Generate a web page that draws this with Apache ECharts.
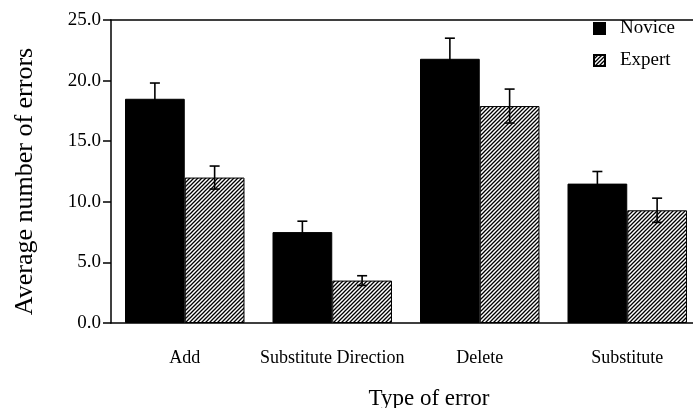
<!DOCTYPE html>
<html>
<head>
<meta charset="utf-8">
<script src="https://cdn.jsdelivr.net/npm/echarts@6/dist/echarts.min.js"></script>
<style>
  html, body { margin: 0; padding: 0; background: #fff; }
  #chart { width: 693px; height: 408px; }
</style>
</head>
<body>
<div id="chart"></div>
<script>
// data
const categories = ['Add', 'Substitute Direction', 'Delete', 'Substitute']
const novice = [18.5, 7.5, 21.8, 11.5]
const noviceErr = [1.3, 0.9, 1.7, 1.0]
const expert = [12.0, 3.5, 17.9, 9.3]
const expertErr = [0.95, 0.4, 1.4, 1.0]
const yTicks = [0, 5, 10, 15, 20, 25]

const font = "'Liberation Serif', 'Times New Roman', serif"
const catGap = 0.19

// diagonal hatch for the expert bars
const makeHatch = () => {
  const c = document.createElement('canvas')
  c.width = 4
  c.height = 4
  const ctx = c.getContext('2d')
  ctx.fillStyle = '#fff'
  ctx.fillRect(0, 0, 4, 4)
  ctx.strokeStyle = '#000'
  ctx.lineWidth = 1.3
  ctx.beginPath()
  ctx.moveTo(-1, 5); ctx.lineTo(5, -1)
  ctx.moveTo(-1, 1); ctx.lineTo(1, -1)
  ctx.moveTo(3, 5); ctx.lineTo(5, 3)
  ctx.stroke()
  return c
}

const errData = (vals, errs) => vals.map((v, i) => [i, v - errs[i], v + errs[i]])

const errSeries = (vals, errs, side) => ({
  type: 'custom',
  z: 5,
  silent: true,
  data: errData(vals, errs),
  encode: { x: 0, y: [1, 2] },
  renderItem: (params, api) => {
    const idx = api.value(0)
    const band = api.size([1, 0])[0]
    const x = api.coord([idx, 0])[0] + side * band * (1 - catGap) / 4
    const lo = api.coord([idx, api.value(1)])[1]
    const hi = api.coord([idx, api.value(2)])[1]
    const cap = 5
    const style = { stroke: '#000', lineWidth: 1.6 }
    return {
      type: 'group',
      children: [
        { type: 'line', shape: { x1: x, y1: lo, x2: x, y2: hi }, style },
        { type: 'line', shape: { x1: x - cap, y1: hi, x2: x + cap, y2: hi }, style },
        { type: 'line', shape: { x1: x - cap, y1: lo, x2: x + cap, y2: lo }, style },
      ],
    }
  },
})

const chart = echarts.init(document.getElementById('chart'))
chart.setOption({
  animation: false,
  textStyle: { fontFamily: font, color: '#000' },
  grid: { left: 111, right: -8, top: 20, bottom: 85, outerBoundsMode: 'none' },
  legend: {
    data: ['Novice', 'Expert'],
    orient: 'vertical',
    left: 593,
    top: 19,
    padding: 0,
    icon: 'rect',
    itemWidth: 11,
    itemHeight: 11,
    itemGap: 13,
    textStyle: { fontFamily: font, fontSize: 19, color: '#000', padding: [0, 0, 0, 10] },
  },
  xAxis: [
    {
      type: 'category',
      data: categories,
      axisLine: { lineStyle: { color: '#000', width: 1.5 } },
      axisTick: { alignWithLabel: true, length: 6, lineStyle: { color: '#000', width: 1.5 } },
      axisLabel: { interval: 0, color: '#000', fontFamily: font, fontSize: 18, margin: 26 },
      name: 'Type of error',
      nameLocation: 'middle',
      nameGap: 64,
      nameTextStyle: { fontFamily: font, fontSize: 23, color: '#000', padding: [0, 0, 0, 46] },
    },
    {
      type: 'category',
      data: categories,
      position: 'top',
      axisLine: { lineStyle: { color: '#000', width: 1.5 } },
      axisTick: { show: false },
      axisLabel: { show: false },
    },
  ],
  yAxis: {
    type: 'value',
    min: yTicks[0],
    max: yTicks[yTicks.length - 1],
    interval: 5,
    splitLine: { show: false },
    axisLine: { show: true, lineStyle: { color: '#000', width: 1.5 } },
    axisTick: { show: true, length: 8, lineStyle: { color: '#000', width: 1.5 } },
    axisLabel: { color: '#000', fontFamily: font, fontSize: 19, margin: 10, formatter: (v) => v.toFixed(1) },
    name: 'Average number of errors',
    nameLocation: 'middle',
    nameGap: 73,
    nameTextStyle: { fontFamily: font, fontSize: 26, color: '#000', padding: [0, 20, 0, 0] },
  },
  series: [
    {
      name: 'Novice',
      type: 'bar',
      data: novice,
      barGap: '0%',
      barCategoryGap: catGap * 100 + '%',
      itemStyle: { color: '#000', borderColor: '#000', borderWidth: 1 },
    },
    {
      name: 'Expert',
      type: 'bar',
      data: expert,
      itemStyle: { color: { image: makeHatch(), repeat: 'repeat' }, borderColor: '#000', borderWidth: 1 },
    },
    errSeries(novice, noviceErr, -1),
    errSeries(expert, expertErr, 1),
  ],
})
</script>
</body>
</html>
